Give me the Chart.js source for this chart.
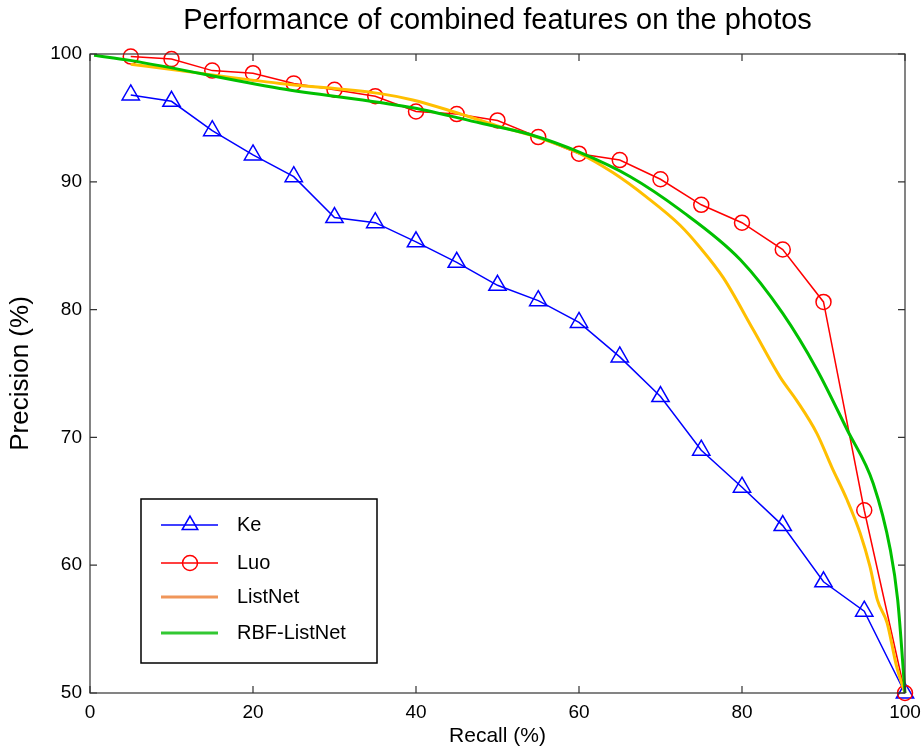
<!DOCTYPE html>
<html>
<head>
<meta charset="utf-8">
<script src="https://cdn.jsdelivr.net/npm/chart.js@4.4.0/dist/chart.umd.min.js"></script>
<style>
  body { margin: 0; background: #fff; }
</style>
</head>
<body>
<canvas id="prChart" width="923" height="749"></canvas>
<script>
// recall steps used by Ke and Luo
const recallSteps = [5, 10, 15, 20, 25, 30, 35, 40, 45, 50, 55, 60, 65, 70, 75, 80, 85, 90, 95, 100];
const kePrecision = [96.8, 96.3, 94.0, 92.1, 90.4, 87.2, 86.8, 85.3, 83.7, 81.9, 80.7, 79.0, 76.3, 73.2, 69.0, 66.1, 63.1, 58.7, 56.4, 50.0];
const luoPrecision = [99.8, 99.6, 98.7, 98.5, 97.7, 97.2, 96.7, 95.5, 95.3, 94.8, 93.5, 92.2, 91.7, 90.2, 88.2, 86.8, 84.7, 80.6, 64.3, 50.0];

// smooth curves
const listNetRecall = [5, 11, 23.3, 35.6, 39.6, 44.5, 49.9, 54.8, 59.8, 64.2, 68.3, 72.4, 74.8, 77.7, 81.4, 84.7, 86.7, 89.2, 91.0, 92.9, 94.5, 95.7, 96.6, 97.8, 99.0, 100];
const listNetPrecision = [99.2, 98.7, 97.7, 96.9, 96.4, 95.5, 94.4, 93.5, 92.3, 90.7, 88.8, 86.6, 84.9, 82.5, 78.4, 74.7, 72.9, 70.3, 67.7, 65.1, 62.5, 59.9, 57.3, 55.5, 52.0, 50.0];
const rbfRecall = [0.5, 4.9, 23.3, 35.6, 39.6, 47.9, 54.0, 60.1, 66.3, 72.4, 79.8, 85.0, 89.2, 92.9, 96.1, 98.2, 99.1, 100];
const rbfPrecision = [99.9, 99.5, 97.3, 96.2, 95.8, 94.6, 93.7, 92.3, 90.4, 87.8, 83.9, 79.7, 75.3, 70.6, 66.4, 61.2, 57.3, 50.0];

const seriesNames = ['Ke', 'Luo', 'ListNet', 'RBF-ListNet'];
const legendColors = ['#0000ff', '#ff0000', '#f0965a', '#32c832'];

const FONT = '"Liberation Sans", Arial, Helvetica, sans-serif';

function pts(xs, ys) {
    return xs.map((x, i) => ({ x: x, y: ys[i] }));
}

// MATLAB style box with inward ticks on all four sides
const boxPlugin = {
    id: 'box',
    afterDatasetsDraw(chart) {
        const { ctx, chartArea: a, scales } = chart;
        ctx.save();
        ctx.strokeStyle = '#333';
        ctx.lineWidth = 1.2;
        ctx.strokeRect(a.left, a.top, a.right - a.left, a.bottom - a.top);
        const len = 7;
        ctx.beginPath();
        scales.x.ticks.forEach(t => {
            const px = scales.x.getPixelForValue(t.value);
            ctx.moveTo(px, a.bottom); ctx.lineTo(px, a.bottom - len);
            ctx.moveTo(px, a.top); ctx.lineTo(px, a.top + len);
        });
        scales.y.ticks.forEach(t => {
            const py = scales.y.getPixelForValue(t.value);
            ctx.moveTo(a.left, py); ctx.lineTo(a.left + len, py);
            ctx.moveTo(a.right, py); ctx.lineTo(a.right - len, py);
        });
        ctx.stroke();
        ctx.restore();
    }
};

// legend box inside the plot, bottom left
const legendPlugin = {
    id: 'boxLegend',
    afterDraw(chart) {
        const { ctx, chartArea: a } = chart;
        const left = a.left + 51, top = a.bottom - 194, w = 236, h = 164;
        ctx.save();
        ctx.fillStyle = '#fff';
        ctx.fillRect(left, top, w, h);
        ctx.strokeStyle = '#000';
        ctx.lineWidth = 1.5;
        ctx.strokeRect(left, top, w, h);
        const rows = [26, 64, 98, 134];
        chart.data.datasets.forEach((ds, i) => {
            const y = top + rows[i];
            ctx.strokeStyle = legendColors[i];
            ctx.lineWidth = i < 2 ? 1.5 : 3;
            ctx.beginPath();
            ctx.moveTo(left + 20, y);
            ctx.lineTo(left + 77, y);
            ctx.stroke();
            if (ds.pointStyle && ds.pointRadius > 0) {
                ctx.fillStyle = 'rgba(0,0,0,0)';
                ctx.lineWidth = 1.5;
                Chart.helpers.drawPoint(ctx, {
                    pointStyle: ds.pointStyle,
                    radius: ds.pointStyle === 'triangle' ? 9 : 7.5,
                    rotation: 0,
                    borderWidth: 1.5
                }, left + 49, y);
            }
            ctx.fillStyle = '#000';
            ctx.font = '20px ' + FONT;
            ctx.textBaseline = 'middle';
            ctx.textAlign = 'left';
            ctx.fillText(ds.label, left + 96, y);
        });
        ctx.restore();
    }
};

new Chart(document.getElementById('prChart'), {
    type: 'line',
    data: {
        datasets: [{
            label: seriesNames[0],
            data: pts(recallSteps, kePrecision),
            borderColor: '#0000ff',
            borderWidth: 1.5,
            pointStyle: 'triangle',
            pointRadius: 10,
            pointBorderWidth: 1.5,
            pointBackgroundColor: 'rgba(0,0,0,0)',
            pointBorderColor: '#0000ff',
            tension: 0,
            clip: false,
            order: 4
        }, {
            label: seriesNames[1],
            data: pts(recallSteps, luoPrecision),
            borderColor: '#ff0000',
            borderWidth: 1.5,
            pointStyle: 'circle',
            pointRadius: 7.5,
            pointBorderWidth: 1.5,
            pointBackgroundColor: 'rgba(0,0,0,0)',
            pointBorderColor: '#ff0000',
            tension: 0,
            clip: false,
            order: 3
        }, {
            label: seriesNames[2],
            data: pts(listNetRecall, listNetPrecision),
            borderColor: '#ffbf00',
            borderWidth: 3,
            pointRadius: 0,
            cubicInterpolationMode: 'monotone',
            clip: false,
            order: 2
        }, {
            label: seriesNames[3],
            data: pts(rbfRecall, rbfPrecision),
            borderColor: '#00c000',
            borderWidth: 3,
            pointRadius: 0,
            cubicInterpolationMode: 'monotone',
            clip: false,
            order: 1
        }]
    },
    options: {
        responsive: false,
        animation: false,
        layout: { padding: { left: 0, right: 18, top: 0, bottom: 0 } },
        plugins: {
            legend: { display: false },
            tooltip: { enabled: false },
            title: {
                display: true,
                text: 'Performance of combined features on the photos',
                color: '#000',
                fullSize: false,
                font: { family: FONT, size: 29, weight: 'normal' },
                padding: { top: 3.5, bottom: 15.7 }
            }
        },
        scales: {
            x: {
                type: 'linear',
                min: 0,
                max: 100,
                ticks: { stepSize: 20, color: '#000', padding: 8, font: { family: FONT, size: 19 } },
                grid: { display: false, drawTicks: false },
                border: { display: false },
                title: { display: true, text: 'Recall (%)', color: '#000', padding: { top: 0, bottom: 0 }, font: { family: FONT, size: 21 } },
                afterFit(scale) {
                    scale.height = 56;
                    scale.paddingLeft = 0;
                    scale.paddingRight = 0;
                }
            },
            y: {
                min: 50,
                max: 100,
                ticks: { stepSize: 10, color: '#000', padding: 8, font: { family: FONT, size: 19 } },
                grid: { display: false, drawTicks: false },
                border: { display: false },
                title: { display: true, text: 'Precision (%)', color: '#000', padding: { top: 5, bottom: 0 }, font: { family: FONT, size: 26 } },
                afterFit(scale) {
                    scale.width = 90;
                    scale.paddingTop = 0;
                    scale.paddingBottom = 0;
                }
            }
        }
    },
    plugins: [boxPlugin, legendPlugin]
});
</script>
</body>
</html>
